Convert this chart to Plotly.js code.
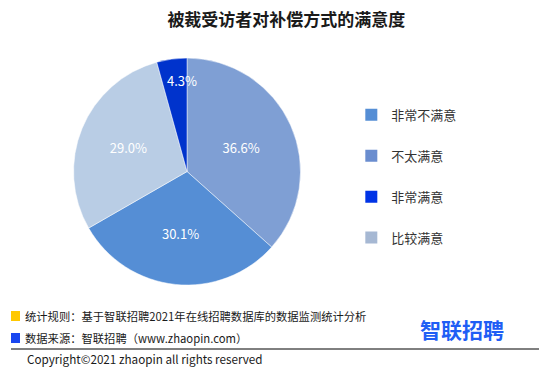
<!DOCTYPE html>
<html><head><meta charset="utf-8">
<script src="https://cdn.plot.ly/plotly-3.0.1.min.js"></script>
<style>html,body{margin:0;padding:0;background:#fff;}#chart{width:555px;height:377px;}</style>
</head><body><div id="chart"></div>
<script>
// Slices, clockwise from 12 o'clock
const sliceLabels = ['不太满意', '非常不满意', '比较满意', '非常满意'];
const sliceValues = [36.6, 30.1, 29.0, 4.3];
const sliceColors = ['#7f9fd4', '#558ed5', '#b9cde5', '#0033cc'];
// Legend order as shown
const legendLabels = ['非常不满意', '不太满意', '非常满意', '比较满意'];
const legendColors = ['#558ed5', '#6a8dcf', '#0033e6', '#a6b8d3'];

const title = '被裁受访者对补偿方式的满意度';
const note1 = '统计规则：基于智联招聘2021年在线招聘数据库的数据监测统计分析';
const note2 = '数据来源：智联招聘（www.zhaopin.com）';
const copyright = 'Copyright©2021 zhaopin all rights reserved';
const logo = '智联招聘';

const FONT = '"Microsoft YaHei","Noto Sans CJK SC","Noto Sans",sans-serif';

const W = 555, H = 377;
const pieDomX = [0.132, 0.542], pieDomY = [0.244, 0.846];

// small slices get their label as an annotation at the slice's mid-angle (full size, like the original)
const total = sliceValues.reduce((a, b) => a + b, 0);
const smallIdx = sliceValues.map((v, i) => (v / total < 0.08 ? i : -1)).filter(i => i >= 0);
const texts = sliceValues.map((v, i) => (smallIdx.includes(i) ? '' : v.toFixed(1) + '%'));

const cx = (pieDomX[0] + pieDomX[1]) / 2 * W;
const cyFromTop = H - (pieDomY[0] + pieDomY[1]) / 2 * H;
const R = Math.min((pieDomX[1] - pieDomX[0]) * W, (pieDomY[1] - pieDomY[0]) * H) / 2;
const smallAnns = smallIdx.map(i => {
  const before = sliceValues.slice(0, i).reduce((a, b) => a + b, 0);
  const mid = (before + sliceValues[i] / 2) / total * 2 * Math.PI; // clockwise from top
  const x = cx + 0.81 * R * Math.sin(mid);
  const y = cyFromTop - 0.81 * R * Math.cos(mid);
  return {text: sliceValues[i].toFixed(1) + '%', xref: 'paper', yref: 'paper',
          x: x / W, y: 1 - y / H, xanchor: 'center', yanchor: 'middle', xshift: 7,
          showarrow: false, font: {size: 13, color: '#ffffff', family: FONT}};
});

const traces = [{
  type: 'pie',
  labels: sliceLabels,
  values: sliceValues,
  text: texts,
  sort: false,
  direction: 'clockwise',
  rotation: 0,
  marker: {colors: sliceColors, line: {color: '#ffffff', width: 0.5}},
  textinfo: 'text',
  textposition: 'inside',
  insidetextorientation: 'horizontal',
  textfont: {color: '#ffffff', size: 13, family: FONT},
  hoverinfo: 'label+value',
  showlegend: false,
  domain: {x: pieDomX, y: pieDomY}
}];
legendLabels.forEach((lab, i) => {
  traces.push({
    type: 'scatter', mode: 'markers', x: [null], y: [null],
    name: lab, legendgroup: 'g' + i,
    marker: {symbol: 'square', size: 12, color: legendColors[i]},
    showlegend: true, hoverinfo: 'skip'
  });
});

const layout = {
  width: W, height: H,
  margin: {l: 0, r: 0, t: 0, b: 0},
  paper_bgcolor: '#ffffff', plot_bgcolor: '#ffffff',
  font: {family: FONT, color: '#333333'},
  title: {text: '<b>' + title + '</b>', x: 0.516, xanchor: 'center', y: 0.948, yanchor: 'middle',
          font: {size: 17, color: '#1a1a1a', family: FONT}},
  xaxis: {visible: false, domain: [0.9, 1]},
  yaxis: {visible: false, domain: [0.9, 1]},
  legend: {x: 0.633, y: 0.735, xanchor: 'left', yanchor: 'top',
           traceorder: 'grouped', tracegroupgap: 21,
           font: {size: 13, color: '#333333', family: FONT},
           bgcolor: 'rgba(0,0,0,0)', itemwidth: 30},
  shapes: [
    {type: 'rect', xref: 'paper', yref: 'paper', x0: 11/W, x1: 20/W, y0: 1 - 321/H, y1: 1 - 311/H,
     fillcolor: '#ffc800', line: {width: 0}},
    {type: 'rect', xref: 'paper', yref: 'paper', x0: 11/W, x1: 20/W, y0: 1 - 343/H, y1: 1 - 333/H,
     fillcolor: '#1a47f0', line: {width: 0}},
    {type: 'line', xref: 'paper', yref: 'paper', x0: 11/W, x1: 539/W, y0: 1 - 349/H, y1: 1 - 349/H,
     line: {color: '#000000', width: 1}}
  ],
  annotations: [
    {text: note1, xref: 'paper', yref: 'paper', x: 23/W, y: 1 - 316/H, xanchor: 'left', yanchor: 'middle',
     showarrow: false, font: {size: 11.3, color: '#1a1a1a', family: FONT}},
    {text: note2, xref: 'paper', yref: 'paper', x: 23/W, y: 1 - 338/H, xanchor: 'left', yanchor: 'middle',
     showarrow: false, font: {size: 11.3, color: '#1a1a1a', family: FONT}},
    {text: copyright, xref: 'paper', yref: 'paper', x: 25/W, y: 1 - 358/H, xanchor: 'left', yanchor: 'middle',
     showarrow: false, font: {size: 11.7, color: '#1a1a1a', family: FONT}},
    {text: '<b>' + logo + '</b>', xref: 'paper', yref: 'paper', x: 462/W, y: 1 - 329/H, xanchor: 'center', yanchor: 'middle',
     showarrow: false, font: {size: 21, color: '#1f5ef5', family: FONT}}
  ].concat(smallAnns)
};

Plotly.newPlot('chart', traces, layout, {displayModeBar: false, staticPlot: true});
</script>
</body></html>
